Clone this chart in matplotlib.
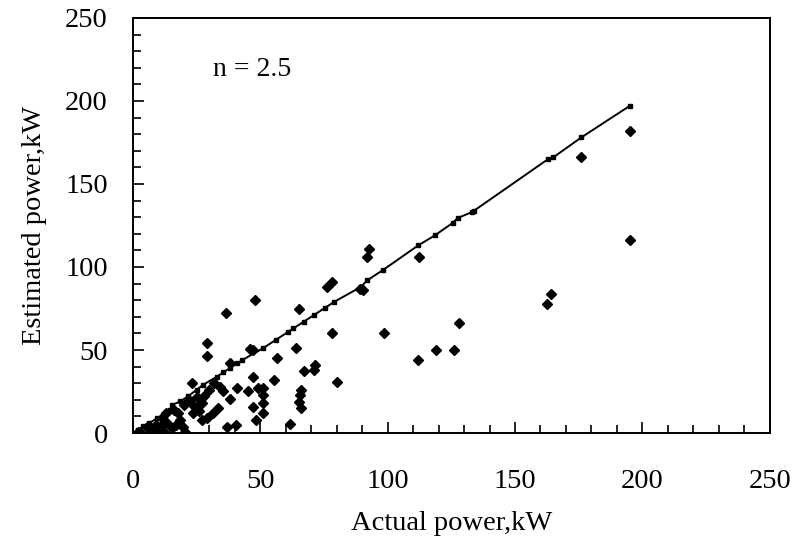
import numpy as np
import matplotlib
matplotlib.use("Agg")
import matplotlib.pyplot as plt
from matplotlib.ticker import MultipleLocator

# measured points (actual, estimated)
actual = [195, 195, 176, 164, 162.5, 128, 126, 119, 112, 98.5, 112.5, 92.5, 92,
          90.5, 89, 76, 78, 65, 78, 64, 56.5, 67, 71.5, 71, 55.5, 80, 66, 65.5,
          65, 66, 61.5, 51, 51, 51, 51, 48, 36.5, 29, 29, 23, 47, 35.5, 41, 45,
          49, 38, 47, 48.5, 37, 40.5, 33.5, 31.5, 29, 27, 23.5, 19.5, 27, 30, 25,
          10.5, 13.5, 15.5, 8, 12, 3, 5.5, 11.5, 17.5, 18.5, 20.5, 12.5, 2, 46,
          38, 47, 16, 20, 22, 24, 26, 28, 32, 34, 13, 17, 9, 7]
estimated = [182, 116, 166, 84, 78, 66, 50, 50, 44, 60, 106, 111, 106,
             86, 87, 88, 91, 75, 60, 51, 45, 37.5, 41, 38, 32, 31, 26, 23,
             18.5, 15, 5.5, 27, 23, 18, 12, 80, 72, 54, 46.5, 30, 33.5, 25.5, 27, 25.5,
             27, 20.5, 15.5, 8, 3.5, 5, 15, 12, 9, 8, 12, 3.5, 18, 26, 21.5,
             3.5, 6, 3, 2, 0.5, 0, 3.5, 9, 12, 8, 0.5, 0, 0.5, 50.5,
             42, 50, 14, 17, 20, 16, 13, 22, 30, 28, 12, 5, 5, 3]

# points lying on the n = 2.5 estimate line
line_actual = [2, 4, 6.5, 9.5, 12, 14.5, 15.5, 18.5, 21.5, 25, 27.5, 33, 35.5, 38,
               41, 43, 51, 56, 61, 63, 67, 71, 75.5, 79, 89.5, 92, 98, 112,
               118.5, 125.5, 127.5, 133, 134, 163, 165, 176, 195]
line_est = [2, 4, 6, 9, 11, 14, 17, 19, 22, 26, 29, 34, 36.5, 39,
            42, 44, 51, 56, 61, 63, 67, 71, 75.5, 79, 88, 92, 98, 113,
            119, 126.5, 129.5, 133, 134, 165, 166, 178, 197]

plt.rcParams['font.family'] = ['Liberation Serif', 'DejaVu Serif']

fig = plt.figure(figsize=(7.96, 5.44), dpi=100)
ax = fig.add_axes([0.167, 0.204, 0.800, 0.763])

ax.plot(line_actual, line_est, color='black', lw=1.4, marker='s', ms=2.8)
ax.plot(actual, estimated, linestyle='none', marker='D', ms=4.9, color='black')

ax.set_xlim(0, 250)
ax.set_ylim(0, 250)
ax.xaxis.set_major_locator(MultipleLocator(50))
ax.yaxis.set_major_locator(MultipleLocator(50))
ax.xaxis.set_minor_locator(MultipleLocator(10))
ax.yaxis.set_minor_locator(MultipleLocator(10))
ax.tick_params(which='both', direction='in', width=1.2, labelsize=20.5)
ax.tick_params(which='major', length=8)
ax.tick_params(which='minor', length=6)
ax.tick_params(axis='x', pad=26)
ax.tick_params(axis='y', pad=18)
for s in ax.spines.values():
    s.set_linewidth(1.4)

ax.text(31.5, 219, 'n = 2.5', fontsize=20, va='center')
ax.set_xlabel('Actual power,kW', fontsize=20.5, labelpad=12)
ax.set_ylabel('Estimated power,kW', fontsize=20.5, labelpad=13)

fig.savefig('out.png', dpi=100)
